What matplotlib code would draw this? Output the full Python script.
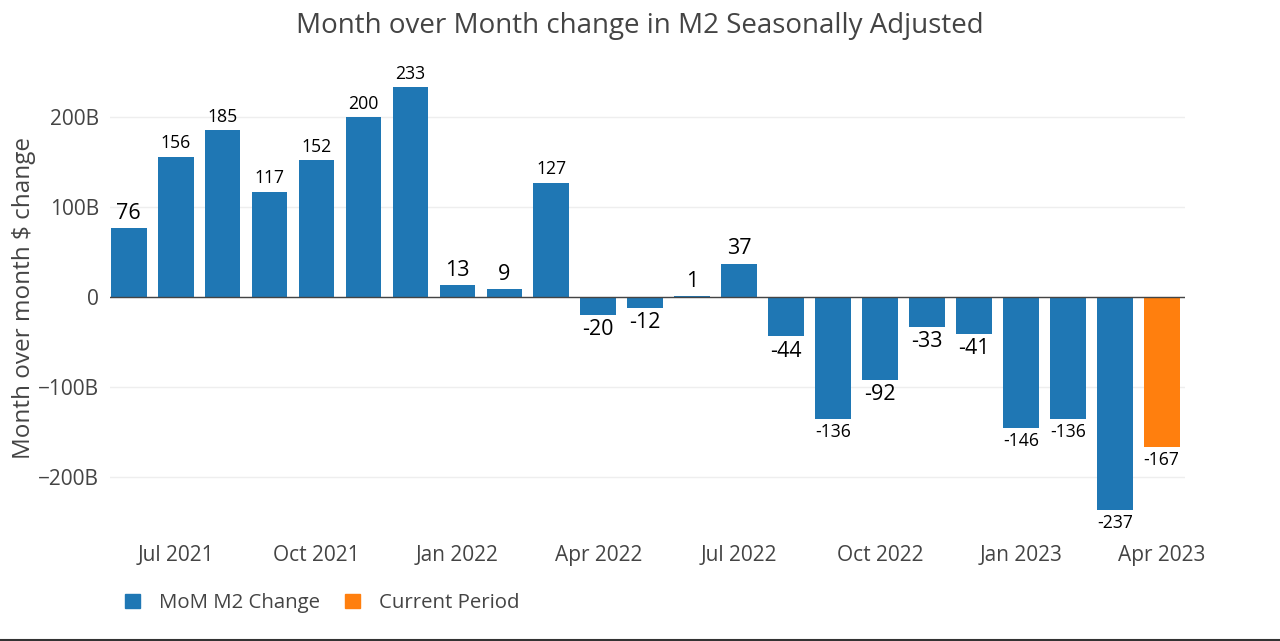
"""Month over month change in M2, recreated with matplotlib"""
import matplotlib
matplotlib.use("Agg")
import matplotlib.pyplot as plt
from matplotlib.lines import Line2D
from matplotlib.patches import Patch

plt.rcParams['font.family'] = ['Open Sans', 'DejaVu Sans']

months = ['Jun 2021', 'Jul 2021', 'Aug 2021', 'Sep 2021', 'Oct 2021', 'Nov 2021',
          'Dec 2021', 'Jan 2022', 'Feb 2022', 'Mar 2022', 'Apr 2022', 'May 2022',
          'Jun 2022', 'Jul 2022', 'Aug 2022', 'Sep 2022', 'Oct 2022', 'Nov 2022',
          'Dec 2022', 'Jan 2023', 'Feb 2023', 'Mar 2023', 'Apr 2023']
changes = [76, 156, 185, 117, 152, 200, 233, 13, 9, 127, -20, -12,
           1, 37, -44, -136, -92, -33, -41, -146, -136, -237, -167]
tick_labels = ['Jul 2021', 'Oct 2021', 'Jan 2022', 'Apr 2022',
               'Jul 2022', 'Oct 2022', 'Jan 2023', 'Apr 2023']
y_ticks = [-200, -100, 0, 100, 200]
y_tick_labels = ['\u2212200B', '\u2212100B', '0', '100B', '200B']

BLUE = '#1f77b4'
ORANGE = '#ff7f0e'
GREY = '#444444'


def plot():
    fig = plt.figure(figsize=(12.8, 6.41), dpi=100)
    ax = fig.add_axes([0.0859, 0.165, 0.84, 0.741])

    x = list(range(len(months)))
    ax.bar(x[:-1], changes[:-1], width=0.76, color=BLUE, zorder=3)
    ax.bar(x[-1:], changes[-1:], width=0.76, color=ORANGE, zorder=3)

    # plotly shrinks the three digit labels, keep that look
    for xi, v in zip(x, changes):
        size = 12.7 if len(str(abs(v))) >= 3 else 15.5
        if v >= 0:
            ax.annotate(str(v), (xi, v), xytext=(0, 3), textcoords='offset points',
                        ha='center', va='bottom', fontsize=size, color='black')
        else:
            ax.annotate(str(v), (xi, v), xytext=(0, -3), textcoords='offset points',
                        ha='center', va='top', fontsize=size, color='black')

    ax.set_xlim(-0.4, 22.5)
    ax.set_ylim(-265, 263)

    ax.set_yticks(y_ticks)
    ax.set_yticklabels(y_tick_labels)
    ax.set_xticks([months.index(t) for t in tick_labels])
    ax.set_xticklabels(tick_labels)
    ax.tick_params(axis='both', length=0, labelsize=15, colors=GREY, pad=8)
    ax.tick_params(axis='x', pad=7)

    ax.grid(axis='y', color='#eeeeee', linewidth=1, zorder=0)
    ax.axhline(0, color=GREY, linewidth=1, zorder=4)
    for s in ax.spines.values():
        s.set_visible(False)

    ax.set_ylabel('Month over month $ change', fontsize=17.5, color=GREY, labelpad=1)
    fig.text(0.5, 0.96, 'Month over Month change in M2 Seasonally Adjusted',
             ha='center', va='center', fontsize=20, color=GREY)

    handles = [Patch(color=BLUE, label='MoM M2 Change'),
               Patch(color=ORANGE, label='Current Period')]
    fig.legend(handles=handles, loc='center left', bbox_to_anchor=(0.083, 0.059),
               ncol=2, frameon=False, fontsize=14.7, labelcolor=GREY,
               handlelength=0.73, handleheight=0.73, handletextpad=0.93,
               columnspacing=1.27)

    fig.add_artist(Line2D([0, 1], [0.002, 0.002], color='#333333', linewidth=1.5))

    fig.savefig('out.png', dpi=100)


if __name__ == "__main__":
    plot()
